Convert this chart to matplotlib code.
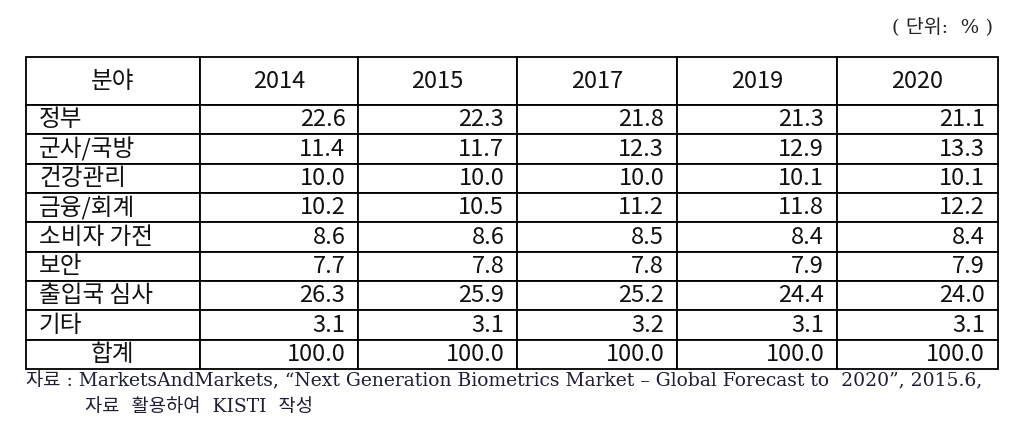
import matplotlib
matplotlib.use("Agg")
import matplotlib.pyplot as plt

plt.rcParams['font.family'] = ['Noto Sans CJK KR', 'DejaVu Sans']

years = ['2014', '2015', '2017', '2019', '2020']
fields = ['정부', '군사/국방', '건강관리', '금융/회계', '소비자 가전', '보안', '출입국 심사', '기타', '합계']
v2014 = [22.6, 11.4, 10.0, 10.2, 8.6, 7.7, 26.3, 3.1, 100.0]
v2015 = [22.3, 11.7, 10.0, 10.5, 8.6, 7.8, 25.9, 3.1, 100.0]
v2017 = [21.8, 12.3, 10.0, 11.2, 8.5, 7.8, 25.2, 3.2, 100.0]
v2019 = [21.3, 12.9, 10.1, 11.8, 8.4, 7.9, 24.4, 3.1, 100.0]
v2020 = [21.1, 13.3, 10.1, 12.2, 8.4, 7.9, 24.0, 3.1, 100.0]

W, H = 1019, 433
fig = plt.figure(figsize=(W / 100, H / 100), dpi=100)
ax = fig.add_axes([0, 0, 1, 1])
ax.set_axis_off()

cols = [v2014, v2015, v2017, v2019, v2020]
cell_text = [['분야'] + years]
for i, f in enumerate(fields):
    cell_text.append([f] + ['%.1f' % c[i] for c in cols])

col_w = [174, 158, 159, 160, 160, 161]
left, top, right, bottom = 26, 57, 998, 369
tbl = ax.table(cellText=cell_text, colWidths=col_w, cellLoc='right',
               bbox=[left / W, 1 - bottom / H, (right - left) / W, (bottom - top) / H])
tbl.auto_set_font_size(False)
tbl.set_fontsize(17)

for (r, c), cell in tbl.get_celld().items():
    cell.set_linewidth(1.3)
    cell.set_edgecolor('black')
    cell.set_height(48 if r == 0 else 29.3)
    txt = cell.get_text()
    txt.set_color('#111111')
    if r == 0:
        cell._loc = 'center'
    elif c == 0:
        cell._loc = 'center' if cell_text[r][0] == '합계' else 'left'
        cell.PAD = 0.075
    else:
        cell.PAD = 0.08
    txt.set_ha({'center': 'center', 'left': 'left', 'right': 'right'}[cell._loc])

note_font = ['DejaVu Serif', 'Noto Sans CJK KR']
ax.text(993 / W, 1 - 27 / H, '( 단위:  % )', fontsize=14, ha='right', va='center',
        family=note_font, color='#222222')

ax.text(26 / W, 1 - 381 / H,
        '자료 : MarketsAndMarkets, “Next Generation Biometrics Market – Global Forecast to  2020”, 2015.6,',
        fontsize=13.5, ha='left', va='center', family=note_font, color='#1e1e38')
ax.text(85 / W, 1 - 407 / H, '자료  활용하여  KISTI  작성',
        fontsize=13.5, ha='left', va='center', family=note_font, color='#1e1e38')

fig.savefig('out.png', dpi=100)
